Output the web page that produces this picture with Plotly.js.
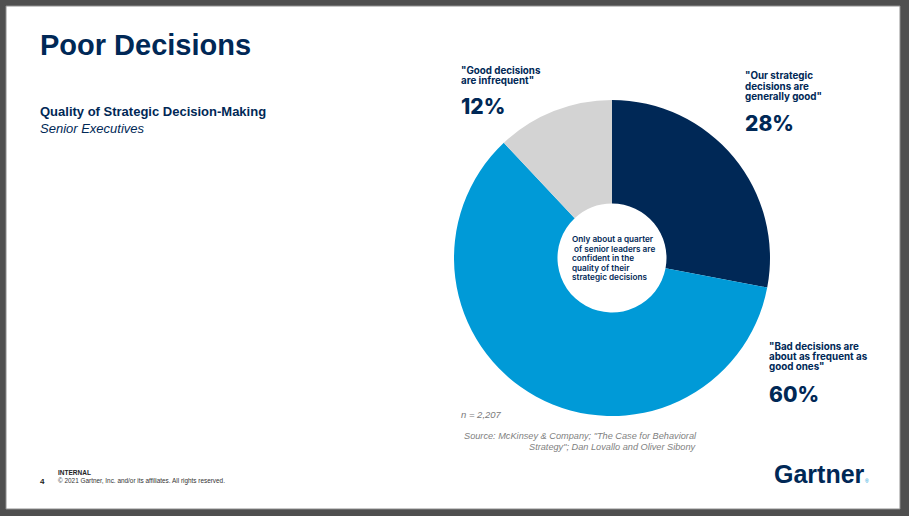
<!DOCTYPE html>
<html>
<head>
<meta charset="utf-8">
<script src="https://cdn.plot.ly/plotly-3.0.1.min.js"></script>
<style>
  html, body { margin: 0; padding: 0; background: #4f4f4f; }
  #chart { width: 909px; height: 516px; }
</style>
</head>
<body>
<div id="chart"></div>
<script>
// Survey: quality of strategic decision-making among senior executives
const sliceNames = [
  '"Our strategic decisions are generally good"',
  '"Bad decisions are about as frequent as good ones"',
  '"Good decisions are infrequent"'
];
const sliceValues = [28, 60, 12];
const sliceLines = [
  ['"Our strategic', 'decisions are', 'generally good"'],
  ['"Bad decisions are', 'about as frequent as', 'good ones"'],
  ['"Good decisions', 'are infrequent"']
];
const centerLines = [
  'Only about a quarter',
  ' of senior leaders are',
  'confident in the',
  'quality of their',
  'strategic decisions'
];
const sampleNote = 'n = 2,207';
const sourceLines = [
  'Source: McKinsey & Company; "The Case for Behavioral',
  'Strategy"; Dan Lovallo and Oliver Sibony'
];

const W = 909, H = 516;
const NAVY = '#002856';
const sliceColors = ['#002856', '#009ad7', '#d3d3d3'];

const px = x => x / W;
const py = y => 1 - y / H;

const annotations = [];
function addText(text, x, y, font, anchor) {
  annotations.push({
    text: text, xref: 'paper', yref: 'paper',
    x: px(x), y: py(y), xanchor: anchor || 'left', yanchor: 'middle',
    showarrow: false, borderpad: 0, font: font,
    align: anchor === 'right' ? 'right' : 'left'
  });
}
function addLines(lines, x, y0, dy, font, anchor) {
  lines.forEach((l, i) => addText(l.replace(/^ /, '&nbsp;'), x, y0 + i * dy, font, anchor));
}

const SANS = 'Liberation Sans, Arial, sans-serif';
const labelFont = { family: 'Inter, Roboto, sans-serif', size: 9.8, color: NAVY, weight: 700 };
const pctFont = { family: 'Inter, Roboto, sans-serif', size: 21, color: NAVY, weight: 800 };

// Heading block
addText('Poor Decisions', 39, 45, { family: SANS, size: 29, color: NAVY, weight: 700 });
addText('Quality of Strategic Decision-Making', 39, 112, { family: SANS, size: 13, color: NAVY, weight: 700 });
addText('<i>Senior Executives</i>', 39, 128, { family: SANS, size: 13, color: NAVY });

// Slice call-outs: 28% (top right), 60% (bottom right), 12% (top left)
const labelPos = [
  { x: 744, y: 76, py: 124 },
  { x: 768, y: 346, py: 394 },
  { x: 460, y: 70, py: 106 }
];
sliceValues.forEach((v, i) => {
  const p = labelPos[i];
  addLines(sliceLines[i], p.x, p.y, 10.6, labelFont);
  addText(v + '%', p.x, p.py, pctFont);
});

// Text inside the donut hole
addLines(centerLines, 571, 239, 9.6, { family: 'Inter, Roboto, sans-serif', size: 8.2, color: NAVY, weight: 600 });

// Notes
addText('<i>' + sampleNote + '</i>', 460, 414, { family: SANS, size: 9.5, color: '#7a7a7a' });
addLines(sourceLines.map(s => '<i>' + s + '</i>'), 698, 436, 11, { family: SANS, size: 9.2, color: '#7f7f7f' }, 'right');

// Footer
addText('INTERNAL', 57, 472, { family: SANS, size: 6.5, color: '#222', weight: 700 });
addText('4', 39, 481, { family: SANS, size: 8, color: '#222', weight: 700 });
addText('© 2021 Gartner, Inc. and/or its affiliates. All rights reserved.', 57, 481, { family: SANS, size: 6.4, color: '#333' });
addText('Gartner', 773, 474, { family: SANS, size: 25, color: NAVY, weight: 700 });
addText('®', 864, 481, { family: SANS, size: 5, color: '#009ad7' });

const data = [{
  type: 'pie',
  labels: sliceNames,
  values: sliceValues,
  sort: false,
  direction: 'clockwise',
  rotation: 0,
  hole: 0.345,
  marker: { colors: sliceColors, line: { width: 0 } },
  textinfo: 'none',
  hoverinfo: 'none',
  showlegend: false,
  domain: { x: [px(454), px(770)], y: [py(416), py(100)] }
}];

const layout = {
  width: W, height: H,
  margin: { l: 0, r: 0, t: 0, b: 0 },
  paper_bgcolor: '#4f4f4f',
  showlegend: false,
  shapes: [{
    type: 'rect', xref: 'paper', yref: 'paper', layer: 'below',
    x0: px(6), x1: px(900), y0: py(509), y1: py(6),
    fillcolor: '#ffffff', line: { color: '#8e8e8e', width: 1 }
  }],
  annotations: annotations
};

Plotly.newPlot('chart', data, layout, { staticPlot: true, displayModeBar: false });
</script>
</body>
</html>
